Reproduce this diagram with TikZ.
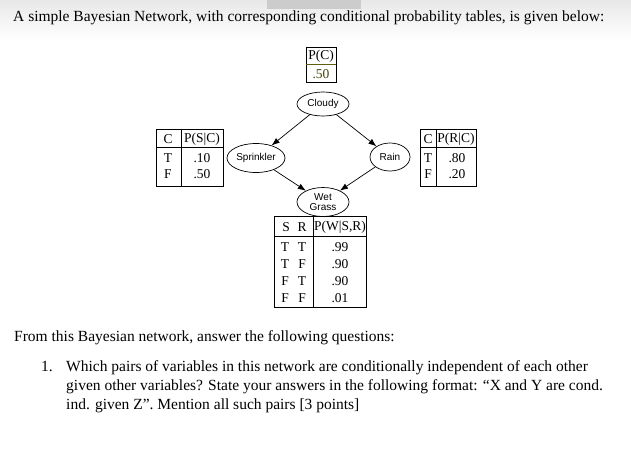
\documentclass[tikz,border=0pt]{standalone}
\usepackage{fontspec}
\setmainfont{Liberation Serif}
\newfontfamily\sansf{Liberation Sans}
\usetikzlibrary{arrows.meta,shapes.geometric}
\definecolor{olivedark}{RGB}{95,95,20}
\begin{document}
\begin{tikzpicture}[x=1pt,y=-1pt,
  var/.style={draw, ellipse, line width=0.7pt, inner sep=0pt, align=center,
    font=\sansf\fontsize{10}{10.5}\selectfont},
  arr/.style={-{Latex[length=8pt,width=6pt]}, line width=0.7pt},
  tbl/.style={line width=0.8pt},
  cell/.style={inner sep=0pt, font=\fontsize{13.5}{14}\selectfont},
  body/.style={anchor=base west, inner sep=0pt, font=\fontsize{15.5}{19}\selectfont}]
\useasboundingbox (0,0) rectangle (631,451);
% top background
\shade[top color=black!9, bottom color=white] (0,0) rectangle (631,40);
\fill[black!20] (267,0) rectangle (361,9);

% texts
\node[body] (title) at (13,21) {A simple Bayesian Network, with corresponding conditional probability tables, is given below:};
\node[body] (from) at (14,341) {From this Bayesian network, answer the following questions:};
\node[body] (num) at (41,371) {1.};
\node[body] (q1) at (66,371) {Which pairs of variables in this network are conditionally independent of each other};
\node[body] (q2) at (66,390) {given other variables? State your answers in the following format: “X and Y are cond.};
\node[body] (q3) at (66,409) {ind. given Z”. Mention all such pairs [3 points]};

% variables
\node[var, minimum width=52pt, minimum height=24pt] (cloudy) at (323,104) {Cloudy};
\node[var, minimum width=58pt, minimum height=29pt] (spr) at (256,158) {Sprinkler};
\node[var, minimum width=40pt, minimum height=28pt] (rain) at (390,157) {Rain};
\node[var, minimum width=52pt, minimum height=29pt] (wg) at (323,202) {Wet\\Grass};

\draw[arr] (cloudy) -- (spr);
\draw[arr] (cloudy) -- (rain);
\draw[arr] (spr) -- (wg);
\draw[arr] (rain) -- (wg);

% P(C) table
\draw[tbl] (306,47) rectangle (336,82);
\draw[tbl, olivedark] (306,64) -- (336,64);
\node[cell] (pc) at (321,56) {P(C)};
\node[cell, text=olivedark!70!black] (pcv) at (321,74) {.50};

% P(S|C) table
\draw[tbl] (156,129) rectangle (223,186);
\draw[tbl] (156,147) -- (223,147);
\draw[tbl] (181,129) -- (181,186);
\node[cell] (sc1) at (168,139) {C};
\node[cell] (sc2) at (202,139) {P(S|C)};
\node[cell] (sct) at (168,158) {T};
\node[cell] (sctv) at (202,158) {.10};
\node[cell] (scf) at (168,174) {F};
\node[cell] (scfv) at (202,174) {.50};

% P(R|C) table
\draw[tbl] (420,129) rectangle (476,186);
\draw[tbl] (420,147) -- (476,147);
\draw[tbl] (436,129) -- (436,186);
\node[cell] (rc1) at (428,139) {C};
\node[cell] (rc2) at (456,139) {P(R|C)};
\node[cell] (rct) at (428,158) {T};
\node[cell] (rctv) at (457,158) {.80};
\node[cell] (rcf) at (428,174) {F};
\node[cell] (rcfv) at (457,174) {.20};

% P(W|S,R) table
\draw[tbl] (274,216) rectangle (366,307);
\draw[tbl] (274,236) -- (366,236);
\draw[tbl] (313,216) -- (313,307);
\node[cell] (w1) at (286,227) {S};
\node[cell] (w2) at (302,227) {R};
\node[cell] (w3) at (340,227) {P(W|S,R)};
\node[cell] (a1) at (285,247) {T};
\node[cell] (b1) at (302,247) {T};
\node[cell] (c1) at (340,247) {.99};
\node[cell] (a2) at (285,264) {T};
\node[cell] (b2) at (302,264) {F};
\node[cell] (c2) at (340,264) {.90};
\node[cell] (a3) at (285,281) {F};
\node[cell] (b3) at (302,281) {T};
\node[cell] (c3) at (340,281) {.90};
\node[cell] (a4) at (285,298) {F};
\node[cell] (b4) at (302,298) {F};
\node[cell] (c4) at (340,298) {.01};
\end{tikzpicture}
\end{document}
